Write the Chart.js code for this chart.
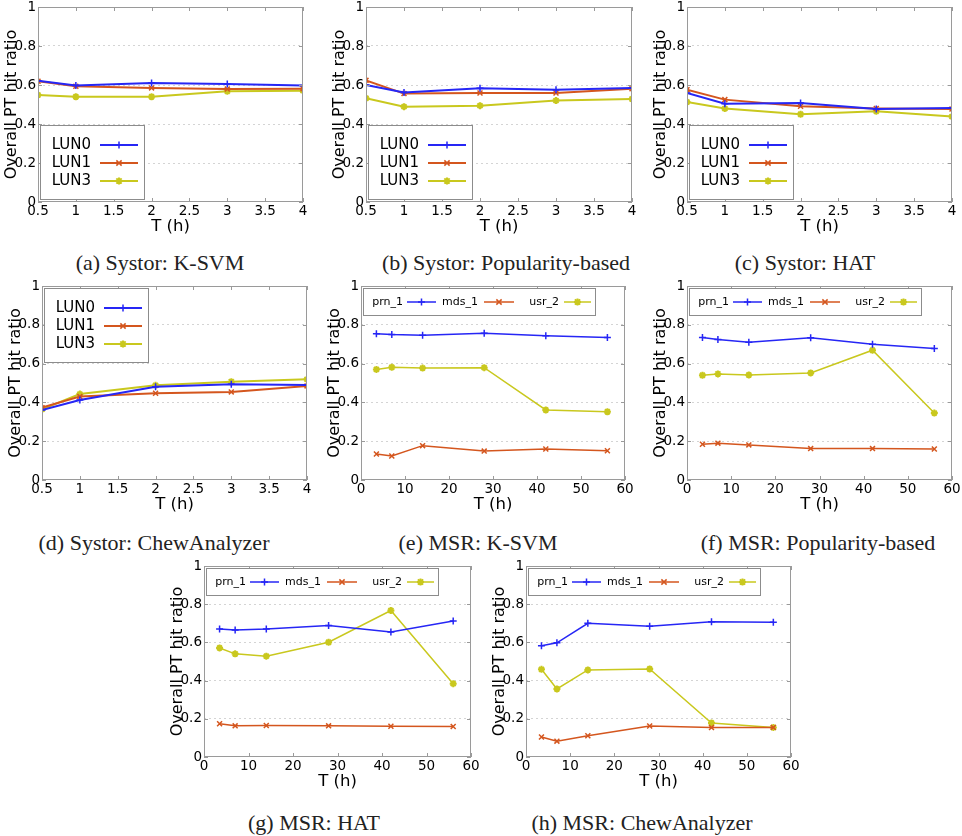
<!DOCTYPE html>
<html lang="en">
<head>
<meta charset="UTF-8">
<title>Overall PT hit ratio</title>
<script src="https://cdn.jsdelivr.net/npm/chart.js"></script>
<style>
  html, body { margin: 0; padding: 0; background: #fff; overflow: hidden; }
  #page { position: relative; width: 962px; height: 836px; }
  canvas { position: absolute; }
  .cap { position: absolute; width: 320px; text-align: center; font-family: "Liberation Serif", serif; font-size: 22px; line-height: 26px; color: #222; }
</style>
</head>
<body>
<div id="page"></div>

<script>
// x values
const systorT = [0.5, 1, 2, 3, 4];
const msrT = [3.5, 7, 14, 28, 42, 56];

// tick labels
const systorXTicks = [0.5, 1, 1.5, 2, 2.5, 3, 3.5, 4];
const msrXTicks = [0, 10, 20, 30, 40, 50, 60];
const yTicks = [0, 0.2, 0.4, 0.6, 0.8, 1];

const systorNames = ["LUN0", "LUN1", "LUN3"];
const msrNames = ["prn_1", "mds_1", "usr_2"];

// (a) Systor: K-SVM
const ksvmLUN0 = [0.622, 0.598, 0.610, 0.605, 0.597];
const ksvmLUN1 = [0.619, 0.593, 0.585, 0.579, 0.581];
const ksvmLUN3 = [0.549, 0.540, 0.540, 0.568, 0.571];
// (b) Systor: Popularity-based
const popLUN0 = [0.600, 0.561, 0.583, 0.576, 0.585];
const popLUN1 = [0.624, 0.556, 0.559, 0.559, 0.581];
const popLUN3 = [0.532, 0.489, 0.494, 0.520, 0.528];
// (c) Systor: HAT
const hatLUN0 = [0.559, 0.504, 0.508, 0.477, 0.482];
const hatLUN1 = [0.576, 0.525, 0.491, 0.480, 0.477];
const hatLUN3 = [0.513, 0.479, 0.450, 0.465, 0.438];
// (d) Systor: ChewAnalyzer
const chewLUN0 = [0.361, 0.412, 0.481, 0.493, 0.490];
const chewLUN1 = [0.373, 0.430, 0.447, 0.454, 0.485];
const chewLUN3 = [0.364, 0.443, 0.488, 0.507, 0.519];
// (e) MSR: K-SVM
const ksvmPrn = [0.754, 0.750, 0.746, 0.756, 0.744, 0.734];
const ksvmMds = [0.134, 0.124, 0.177, 0.149, 0.160, 0.151];
const ksvmUsr = [0.570, 0.581, 0.577, 0.579, 0.361, 0.352];
// (f) MSR: Popularity-based
const popPrn = [0.734, 0.724, 0.710, 0.733, 0.700, 0.678];
const popMds = [0.184, 0.190, 0.181, 0.162, 0.162, 0.160];
const popUsr = [0.540, 0.547, 0.541, 0.552, 0.669, 0.345];
// (g) MSR: HAT
const hatPrn = [0.670, 0.665, 0.670, 0.688, 0.655, 0.712];
const hatMds = [0.174, 0.163, 0.165, 0.163, 0.161, 0.160];
const hatUsr = [0.571, 0.540, 0.528, 0.601, 0.767, 0.384];
// (h) MSR: ChewAnalyzer
const chewPrn = [0.582, 0.598, 0.700, 0.684, 0.708, 0.705];
const chewMds = [0.105, 0.083, 0.111, 0.162, 0.154, 0.155];
const chewUsr = [0.459, 0.356, 0.456, 0.461, 0.178, 0.155];

const colors = ["#2626f5", "#d4561e", "#c9c81e"];
const markers = ["cross", "crossRot", "star"];

// plot-area boxes (left, right, top, bottom) and caption centres
const panels = [
  { cap: "(a) Systor: K-SVM",            L: 38,  R: 303, T: 7,   B: 202, cx: 160, cy: 263, sys: true,  leg: "bottom", data: [ksvmLUN0, ksvmLUN1, ksvmLUN3] },
  { cap: "(b) Systor: Popularity-based", L: 366, R: 632, T: 7,   B: 202, cx: 506, cy: 263, sys: true,  leg: "bottom", data: [popLUN0, popLUN1, popLUN3] },
  { cap: "(c) Systor: HAT",              L: 687, R: 952, T: 7,   B: 202, cx: 805, cy: 263, sys: true,  leg: "bottom", data: [hatLUN0, hatLUN1, hatLUN3] },
  { cap: "(d) Systor: ChewAnalyzer",     L: 42,  R: 307, T: 286, B: 480, cx: 154, cy: 543, sys: true,  leg: "top",    data: [chewLUN0, chewLUN1, chewLUN3] },
  { cap: "(e) MSR: K-SVM",               L: 361, R: 625, T: 286, B: 480, cx: 478, cy: 543, sys: false, leg: "h",      data: [ksvmPrn, ksvmMds, ksvmUsr] },
  { cap: "(f) MSR: Popularity-based",    L: 687, R: 952, T: 286, B: 480, cx: 818, cy: 543, sys: false, leg: "h",      data: [popPrn, popMds, popUsr] },
  { cap: "(g) MSR: HAT",                 L: 204, R: 471, T: 566, B: 757, cx: 314, cy: 823, sys: false, leg: "h",      data: [hatPrn, hatMds, hatUsr] },
  { cap: "(h) MSR: ChewAnalyzer",        L: 526, R: 791, T: 566, B: 757, cx: 642, cy: 823, sys: false, leg: "h",      data: [chewPrn, chewMds, chewUsr] }
];

const AXW = 40, AXH = 42, PADT = 10, PADR = 14;

function drawMarker(ctx, style, x, y, r, color, lw) {
  ctx.save();
  ctx.strokeStyle = color;
  ctx.lineWidth = lw;
  ctx.beginPath();
  if (style === "cross" || style === "star") {
    ctx.moveTo(x - r, y); ctx.lineTo(x + r, y);
    ctx.moveTo(x, y - r); ctx.lineTo(x, y + r);
  }
  if (style === "crossRot" || style === "star") {
    const d = r * 0.75;
    ctx.moveTo(x - d, y - d); ctx.lineTo(x + d, y + d);
    ctx.moveTo(x - d, y + d); ctx.lineTo(x + d, y - d);
  }
  ctx.stroke();
  ctx.restore();
}

// gray frame round the plot with small inward tick marks
const framePlugin = {
  id: "frame",
  afterDatasetsDraw(chart) {
    const ctx = chart.ctx, a = chart.chartArea;
    ctx.save();
    ctx.strokeStyle = "#9a9a9a";
    ctx.lineWidth = 1;
    ctx.strokeRect(a.left + 0.5, a.top + 0.5, a.right - a.left - 1, a.bottom - a.top - 1);
    ctx.beginPath();
    chart.scales.x.ticks.forEach(t => {
      const px = Math.round(chart.scales.x.getPixelForValue(t.value)) + 0.5;
      ctx.moveTo(px, a.bottom); ctx.lineTo(px, a.bottom - 4);
      ctx.moveTo(px, a.top); ctx.lineTo(px, a.top + 4);
    });
    chart.scales.y.ticks.forEach(t => {
      const py = Math.round(chart.scales.y.getPixelForValue(t.value)) + 0.5;
      ctx.moveTo(a.left, py); ctx.lineTo(a.left + 4, py);
      ctx.moveTo(a.right, py); ctx.lineTo(a.right - 4, py);
    });
    ctx.stroke();
    ctx.restore();
  }
};

// gnuplot style key drawn inside the plot
const keyPlugin = {
  id: "keyBox",
  afterDatasetsDraw(chart, args, opts) {
    const ctx = chart.ctx, a = chart.chartArea;
    const ds = chart.data.datasets;
    ctx.save();
    ctx.fillStyle = "#fff";
    ctx.strokeStyle = "#8c8c8c";
    ctx.lineWidth = 1;
    if (opts.mode === "h") {
      const bx = a.left + 2, by = a.top + 2, bw = 232, bh = 27;
      ctx.fillRect(bx, by, bw, bh);
      ctx.strokeRect(bx + 0.5, by + 0.5, bw, bh);
      const textR = [40, 115, 196], l0 = [44, 121, 201], l1 = [73, 151, 228];
      const cy = by + 14;
      ctx.font = "11px 'DejaVu Sans'";
      ctx.textAlign = "right";
      ctx.textBaseline = "middle";
      ds.forEach((d, i) => {
        ctx.fillStyle = "#000";
        ctx.fillText(d.label, bx + textR[i], cy);
        ctx.strokeStyle = d.borderColor;
        ctx.lineWidth = 1.5;
        ctx.beginPath();
        ctx.moveTo(bx + l0[i], cy); ctx.lineTo(bx + l1[i], cy);
        ctx.stroke();
        drawMarker(ctx, d.pointStyle, bx + (l0[i] + l1[i]) / 2, cy, 3.5, d.borderColor, d.pointStyle === "star" ? 2 : 1.5);
      });
    } else {
      const bw = 104, bh = 74;
      const bx = a.left + 2;
      const by = opts.mode === "top" ? a.top + 2 : a.bottom - bh - 3;
      ctx.fillRect(bx, by, bw, bh);
      ctx.strokeRect(bx + 0.5, by + 0.5, bw, bh);
      ctx.font = "15px 'DejaVu Sans'";
      ctx.textAlign = "right";
      ctx.textBaseline = "middle";
      ds.forEach((d, i) => {
        const cy = by + 20 + i * 18;
        ctx.fillStyle = "#000";
        ctx.fillText(d.label, bx + 51, cy);
        ctx.strokeStyle = d.borderColor;
        ctx.lineWidth = 2;
        ctx.beginPath();
        ctx.moveTo(bx + 60, cy); ctx.lineTo(bx + 98, cy);
        ctx.stroke();
        drawMarker(ctx, d.pointStyle, bx + 79, cy, 3.5, d.borderColor, d.pointStyle === "star" ? 2 : 1.5);
      });
    }
    ctx.restore();
  }
};

const page = document.getElementById("page");

panels.forEach(p => {
  const cv = document.createElement("canvas");
  const w = (p.R - p.L) + AXW + PADR;
  const h = (p.B - p.T) + PADT + AXH;
  cv.width = w; cv.height = h;
  cv.style.left = (p.L - AXW) + "px";
  cv.style.top = (p.T - PADT) + "px";
  cv.style.width = w + "px";
  cv.style.height = h + "px";
  page.appendChild(cv);

  const cap = document.createElement("div");
  cap.className = "cap";
  cap.textContent = p.cap;
  cap.style.left = (p.cx - 160) + "px";
  cap.style.top = (p.cy - 13) + "px";
  page.appendChild(cap);

  const xs = p.sys ? systorT : msrT;
  const names = p.sys ? systorNames : msrNames;
  const xTicks = p.sys ? systorXTicks : msrXTicks;

  const datasets = p.data.map((vals, i) => ({
    label: names[i],
    data: xs.map((t, k) => ({ x: t, y: vals[k] })),
    borderColor: colors[i],
    backgroundColor: colors[i],
    borderWidth: p.sys ? 2 : 1.5,
    pointStyle: markers[i],
    pointRadius: 3.5,
    pointBorderWidth: markers[i] === "star" ? 2 : 1.5,
    pointHoverRadius: 3.5,
    tension: 0,
    fill: false
  }));

  new Chart(cv, {
    type: "line",
    data: { datasets },
    options: {
      responsive: false,
      animation: false,
      devicePixelRatio: 1,
      layout: { padding: { top: PADT, right: PADR, left: 0, bottom: 0 } },
      plugins: {
        legend: { display: false },
        tooltip: { enabled: false },
        keyBox: { mode: p.leg }
      },
      scales: {
        x: {
          type: "linear",
          min: xTicks[0],
          max: xTicks[xTicks.length - 1],
          afterBuildTicks: s => { s.ticks = xTicks.map(v => ({ value: v })); },
          afterFit: s => { s.height = AXH; s.paddingLeft = 0; s.paddingRight = 0; },
          grid: { display: false, drawTicks: false },
          border: { display: false },
          ticks: {
            autoSkip: false, maxRotation: 0, padding: 1,
            color: "#000",
            font: { family: "DejaVu Sans", size: 13.5 },
            callback: v => String(+(+v).toFixed(1))
          },
          title: {
            display: true, text: "T (h)", color: "#000",
            font: { family: "DejaVu Sans", size: 16.5 },
            padding: { top: 0, bottom: 7 }
          }
        },
        y: {
          min: 0, max: 1,
          afterBuildTicks: s => { s.ticks = yTicks.map(v => ({ value: v })); },
          afterFit: s => { s.width = AXW; s.paddingTop = 0; s.paddingBottom = 0; },
          grid: {
            drawTicks: false,
            color: c => (c.tick && c.tick.value > 0 && c.tick.value < 1) ? "#d4d4d4" : "rgba(0,0,0,0)",
            lineWidth: 1
          },
          border: { display: false, dash: [2, 3] },
          ticks: {
            padding: 2, color: "#000",
            font: { family: "DejaVu Sans", size: 13.5 },
            callback: v => String(+(+v).toFixed(1))
          },
          title: {
            display: true, text: "Overall PT hit ratio", color: "#000",
            font: { family: "DejaVu Sans", size: 16 },
            padding: { top: 4, bottom: 0 }
          }
        }
      }
    },
    plugins: [framePlugin, keyPlugin]
  });
});
</script>
</body>
</html>
